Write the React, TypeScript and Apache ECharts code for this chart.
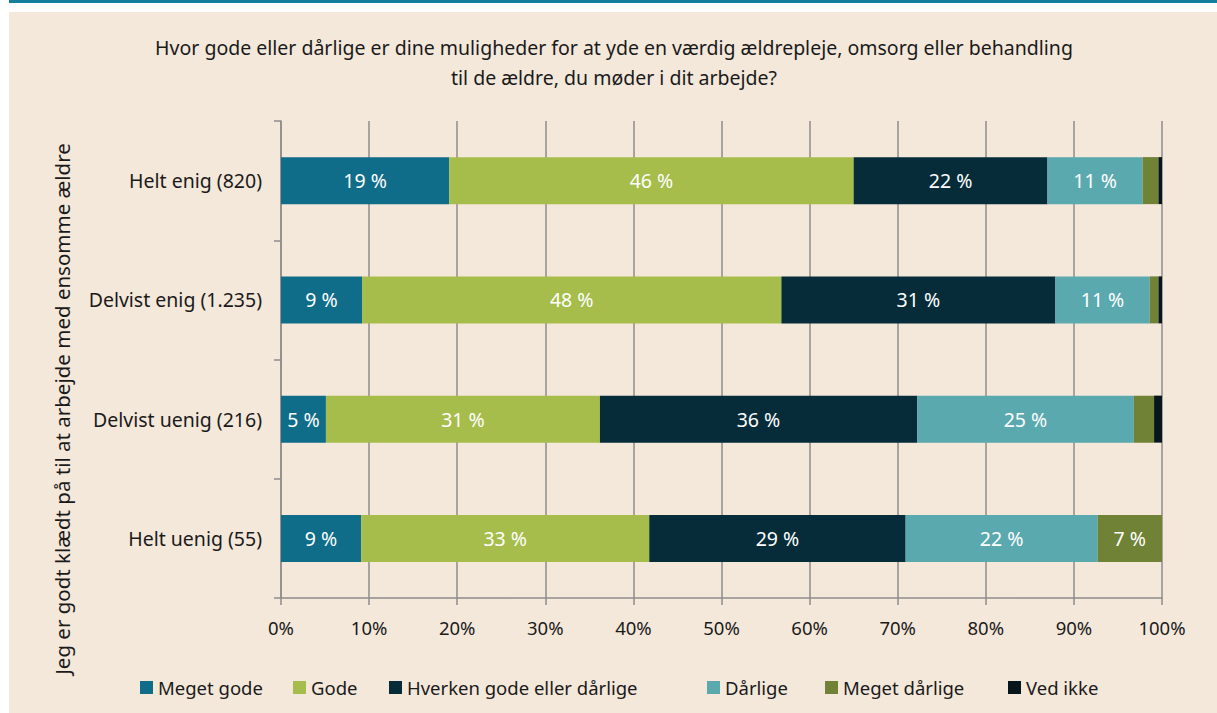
import React, { useEffect, useRef } from "react";
import * as echarts from "echarts";

const categories = ["Helt enig (820)", "Delvist enig (1.235)", "Delvist uenig (216)", "Helt uenig (55)"];
const seriesNames = ["Meget gode", "Gode", "Hverken gode eller dårlige", "Dårlige", "Meget dårlige", "Ved ikke"];
const megetGode = [19.1, 9.2, 5.1, 9.1];
const gode = [45.9, 47.6, 31.1, 32.7];
const hverken = [22.0, 31.1, 36.0, 29.1];
const daarlige = [10.8, 10.7, 24.6, 21.8];
const megetDaarlige = [1.8, 1.0, 2.3, 7.3];
const vedIkke = [0.4, 0.4, 0.9, 0];
const colors = ["#0f6d89", "#a6bd4b", "#052c38", "#5aa9af", "#708235", "#07161c"];
const xTicks = [0, 10, 20, 30, 40, 50, 60, 70, 80, 90, 100];
const legendX = [135, 288, 384, 702, 820, 1003];

const titleText = "Hvor gode eller dårlige er dine muligheder for at yde en værdig ældrepleje, omsorg eller behandling\ntil de ældre, du møder i dit arbejde?";
const yName = "Jeg er godt klædt på til at arbejde med ensomme ældre";
const FONT = "Noto Sans";

export default function App() {
  const ref = useRef<HTMLDivElement>(null);
  useEffect(() => {
    if (!ref.current) return;
    const chart = echarts.init(ref.current, undefined, { renderer: "svg" });
    const data = [megetGode, gode, hverken, daarlige, megetDaarlige, vedIkke];
    chart.setOption({
      animation: false,
      backgroundColor: "#ffffff",
      textStyle: { fontFamily: FONT },
      graphic: [
        { type: "rect", z: -10, shape: { x: 9, y: 0, width: 1208, height: 3 }, style: { fill: "#12809d" } },
        { type: "rect", z: -10, shape: { x: 9, y: 12, width: 1208, height: 701 }, style: { fill: "#f4e8db" } },
        {
          type: "text",
          x: 614,
          y: 62,
          style: {
            text: titleText,
            fontFamily: FONT,
            fontSize: 19.5,
            fill: "#1a1a1a",
            align: "center",
            verticalAlign: "middle",
            lineHeight: 30,
          },
        },
        {
          type: "text",
          x: 62,
          y: 409,
          rotation: Math.PI / 2,
          style: {
            text: yName,
            fontFamily: FONT,
            fontSize: 20.5,
            fill: "#1a1a1a",
            align: "center",
            verticalAlign: "middle",
          },
        },
      ],
      legend: seriesNames.map((name, i) => ({
        left: legendX[i],
        top: 673,
        itemWidth: 13,
        itemHeight: 13,
        itemGap: 30,
        icon: "rect",
        textStyle: { fontFamily: FONT, fontSize: 18.5, color: "#1a1a1a" },
        data: [name],
      })),
      grid: { left: 281, right: 55, top: 121, bottom: 115, containLabel: false },
      xAxis: {
        type: "value",
        min: 0,
        max: 100,
        interval: 10,
        axisLine: { show: true, lineStyle: { color: "#8c8c8c", width: 1.5 } },
        axisTick: { show: true, length: 7, lineStyle: { color: "#8c8c8c", width: 1.5 } },
        splitLine: { show: true, lineStyle: { color: "#8c8c8c", width: 1.5 } },
        axisLabel: {
          formatter: (v: number) => (xTicks.includes(v) ? v + "%" : ""),
          fontFamily: FONT,
          fontSize: 18.5,
          color: "#1a1a1a",
          margin: 20,
        },
      },
      yAxis: {
        type: "category",
        inverse: true,
        data: categories,
        axisLine: { show: true, lineStyle: { color: "#8c8c8c", width: 1.5 } },
        axisTick: { show: true, length: 7, lineStyle: { color: "#8c8c8c", width: 1.5 } },
        axisLabel: { fontFamily: FONT, fontSize: 19.5, color: "#1a1a1a", margin: 19 },
      },
      series: seriesNames.map((name, i) => ({
        name,
        type: "bar",
        stack: "total",
        barWidth: 47,
        data: data[i],
        itemStyle: { color: colors[i] },
        label: {
          show: true,
          position: "inside",
          color: "#ffffff",
          fontFamily: FONT,
          fontSize: 19.5,
          formatter: (p: any) => (p.value >= 4 ? Math.round(p.value) + " %" : ""),
        },
      })),
    });
    return () => chart.dispose();
  }, []);
  return (
    <div style={{ position: "fixed", left: 0, top: 0, width: 1217, height: 713 }}>
      <div ref={ref} style={{ width: 1217, height: 713 }} />
    </div>
  );
}
